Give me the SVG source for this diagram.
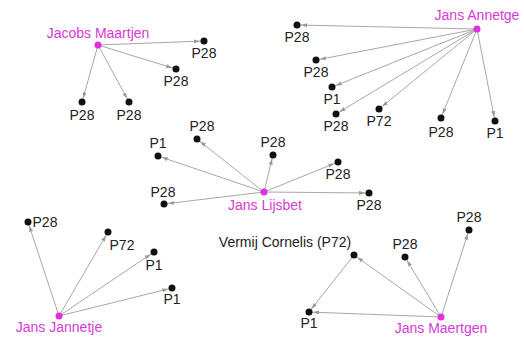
<svg xmlns="http://www.w3.org/2000/svg" width="524" height="339" viewBox="0 0 524 339">
<style>
text{font-family:"Liberation Sans",Arial,sans-serif;font-size:14px;fill:#222;text-anchor:middle}
.p{fill:#d63ad6}
.n{fill:#111}
.m{fill:#e030e0}
.e{stroke:#a8a8a8;stroke-width:1;fill:none;marker-end:url(#a)}
</style>
<defs>
<marker id="a" markerUnits="userSpaceOnUse" markerWidth="6" markerHeight="4" viewBox="0 0 6 4" refX="10" refY="2" orient="auto">
<path d="M0,0 L6,2 L0,4 z" fill="#999"/>
</marker>
</defs>
<rect width="524" height="339" fill="#fff"/>
<g id="connectors">
<line class="e" x1="98" y1="45" x2="204" y2="41"/>
<line class="e" x1="98" y1="45" x2="176" y2="69"/>
<line class="e" x1="98" y1="45" x2="82" y2="102"/>
<line class="e" x1="98" y1="45" x2="129" y2="102"/>
<line class="e" x1="477" y1="29" x2="297" y2="25"/>
<line class="e" x1="477" y1="29" x2="316" y2="60"/>
<line class="e" x1="477" y1="29" x2="332" y2="87"/>
<line class="e" x1="477" y1="29" x2="336" y2="114"/>
<line class="e" x1="477" y1="29" x2="379" y2="109"/>
<line class="e" x1="477" y1="29" x2="441" y2="118"/>
<line class="e" x1="477" y1="29" x2="495" y2="121"/>
<line class="e" x1="264" y1="192" x2="197" y2="139"/>
<line class="e" x1="264" y1="192" x2="158" y2="156"/>
<line class="e" x1="264" y1="192" x2="273" y2="155"/>
<line class="e" x1="264" y1="192" x2="338" y2="162"/>
<line class="e" x1="264" y1="192" x2="369" y2="193"/>
<line class="e" x1="264" y1="192" x2="164" y2="204"/>
<line class="e" x1="59" y1="316" x2="28" y2="222"/>
<line class="e" x1="59" y1="316" x2="108" y2="232"/>
<line class="e" x1="59" y1="316" x2="154" y2="252"/>
<line class="e" x1="59" y1="316" x2="172" y2="288"/>
<line class="e" x1="441" y1="317" x2="469" y2="230"/>
<line class="e" x1="441" y1="317" x2="405" y2="257"/>
<line class="e" x1="441" y1="317" x2="354" y2="255"/>
<line class="e" x1="441" y1="317" x2="309" y2="312"/>
<line class="e" x1="354" y1="255" x2="309" y2="312"/>
</g>
<g id="jacobs-maartjen"><circle class="m" cx="98" cy="45" r="3.5"/><text class="p" x="98" y="38">Jacobs Maartjen</text></g>
<g id="jm-p28a"><circle class="n" cx="204" cy="41" r="3.5"/><text x="204" y="58">P28</text></g>
<g id="jm-p28b"><circle class="n" cx="176" cy="69" r="3.5"/><text x="176" y="86">P28</text></g>
<g id="jm-p28c"><circle class="n" cx="82" cy="102" r="3.5"/><text x="82" y="120">P28</text></g>
<g id="jm-p28d"><circle class="n" cx="129" cy="102" r="3.5"/><text x="129" y="120">P28</text></g>

<g id="jans-annetge"><circle class="m" cx="477" cy="29" r="3.5"/><text class="p" x="477" y="20">Jans Annetge</text></g>
<g id="ja-p28a"><circle class="n" cx="297" cy="25" r="3.5"/><text x="297" y="42">P28</text></g>
<g id="ja-p28b"><circle class="n" cx="316" cy="60" r="3.5"/><text x="316" y="77">P28</text></g>
<g id="ja-p1a"><circle class="n" cx="332" cy="87" r="3.5"/><text x="332" y="104">P1</text></g>
<g id="ja-p28c"><circle class="n" cx="336" cy="114" r="3.5"/><text x="336" y="131">P28</text></g>
<g id="ja-p72"><circle class="n" cx="379" cy="109" r="3.5"/><text x="379" y="126">P72</text></g>
<g id="ja-p28d"><circle class="n" cx="441" cy="118" r="3.5"/><text x="441" y="137">P28</text></g>
<g id="ja-p1b"><circle class="n" cx="495" cy="121" r="3.5"/><text x="495" y="138">P1</text></g>

<g id="jans-lijsbet"><circle class="m" cx="264" cy="192" r="3.5"/><text class="p" x="265" y="210">Jans Lijsbet</text></g>
<g id="jl-p28a"><circle class="n" cx="197" cy="139" r="3.5"/><text x="202" y="131">P28</text></g>
<g id="jl-p1"><circle class="n" cx="158" cy="156" r="3.5"/><text x="158" y="148">P1</text></g>
<g id="jl-p28b"><circle class="n" cx="273" cy="155" r="3.5"/><text x="273" y="147">P28</text></g>
<g id="jl-p28c"><circle class="n" cx="338" cy="162" r="3.5"/><text x="338" y="179">P28</text></g>
<g id="jl-p28d"><circle class="n" cx="369" cy="193" r="3.5"/><text x="369" y="210">P28</text></g>
<g id="jl-p28e"><circle class="n" cx="164" cy="204" r="3.5"/><text x="163" y="197">P28</text></g>

<g id="jans-jannetje"><circle class="m" cx="59" cy="316" r="3.5"/><text class="p" x="59" y="332">Jans Jannetje</text></g>
<g id="jj-p28"><circle class="n" cx="28" cy="222" r="3.5"/><text x="45" y="227">P28</text></g>
<g id="jj-p72"><circle class="n" cx="108" cy="232" r="3.5"/><text x="122" y="250">P72</text></g>
<g id="jj-p1a"><circle class="n" cx="154" cy="252" r="3.5"/><text x="154" y="270">P1</text></g>
<g id="jj-p1b"><circle class="n" cx="172" cy="288" r="3.5"/><text x="172" y="304">P1</text></g>

<g id="jans-maertgen"><circle class="m" cx="441" cy="317" r="3.5"/><text class="p" x="441" y="333">Jans Maertgen</text></g>
<g id="jma-p28a"><circle class="n" cx="469" cy="230" r="3.5"/><text x="469" y="222">P28</text></g>
<g id="jma-p28b"><circle class="n" cx="405" cy="257" r="3.5"/><text x="405" y="249">P28</text></g>
<g id="vermij-cornelis"><circle class="n" cx="354" cy="255" r="3.5"/><text x="285" y="247">Vermij Cornelis (P72)</text></g>
<g id="jma-p1"><circle class="n" cx="309" cy="312" r="3.5"/><text x="309" y="328">P1</text></g>
</svg>
